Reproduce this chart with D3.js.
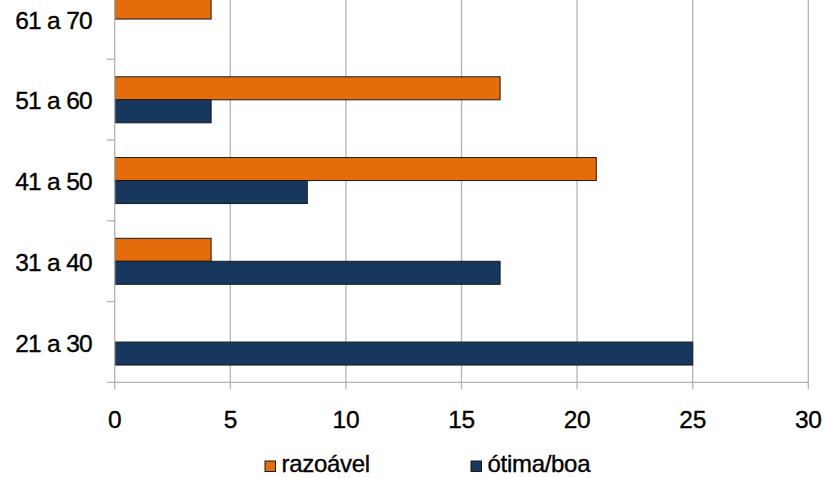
<!DOCTYPE html>
<html><head><meta charset="utf-8">
<script src="https://cdn.jsdelivr.net/npm/d3@7"></script>
<style>body{margin:0;background:#fff}svg{display:block}text{font-family:"Liberation Sans",Arial,sans-serif;fill:#000;stroke:#000;stroke-width:0.35px}</style>
</head><body><svg id="c" width="825" height="478"></svg>
<script>
const categories = ["21 a 30","31 a 40","41 a 50","51 a 60","61 a 70"];
const seriesNames = ["razoável","ótima/boa"];
const razoavel = [0, 4.17, 20.83, 16.67, 4.17];
const otimaBoa = [25, 16.67, 8.33, 4.17, 0];
const colors = ["#E46C0A","#17375E"];
const xTicks = [0,5,10,15,20,25,30];

const svg = d3.select("#c");
const x = d3.scaleLinear().domain([0,30]).range([114.7,808.3]);
const bandH = 80.75, bottom = 382.3;
const y = d3.scaleBand().domain(categories.slice().reverse()).range([bottom-5*bandH, bottom]).padding(0);
const inner = d3.scaleBand().domain(seriesNames).range([17.5, 63.5]).padding(0);
const gridC = "#b3b3b3";

// gridlines
svg.append("g").selectAll("line").data(xTicks.slice(1)).join("line")
  .attr("x1",d=>x(d)).attr("x2",d=>x(d)).attr("y1",0).attr("y2",bottom+7)
  .attr("stroke",gridC).attr("stroke-width",1.3);

// bars
const data = categories.map((c,i)=>({c, vals:[razoavel[i], otimaBoa[i]]}));
const g = svg.append("g");
data.forEach(d=>{
  d.vals.forEach((v,j)=>{
    if (v<=0) return;
    g.append("rect")
      .attr("x", x(0)).attr("y", y(d.c)+inner(seriesNames[j]))
      .attr("width", x(v)-x(0)).attr("height", inner.bandwidth())
      .attr("fill", colors[j]).attr("stroke","#1a1a1a").attr("stroke-width",1);
  });
});

// left axis
svg.append("line").attr("x1",x(0)).attr("x2",x(0)).attr("y1",0).attr("y2",bottom+7)
  .attr("stroke",gridC).attr("stroke-width",1.3);
const bounds = categories.map(c=>y(c));
svg.append("g").selectAll("line").data(bounds.filter(b=>b>0)).join("line")
  .attr("x1",107).attr("x2",x(0)).attr("y1",d=>d).attr("y2",d=>d)
  .attr("stroke",gridC).attr("stroke-width",1.3);
// bottom axis
svg.append("line").attr("x1",107).attr("x2",x(30)).attr("y1",bottom).attr("y2",bottom)
  .attr("stroke",gridC).attr("stroke-width",1.3);

// labels
svg.append("g").selectAll("text").data(categories).join("text")
  .attr("x",92).attr("y",d=>y(d)+y.bandwidth()/2).attr("dy","0.4em")
  .attr("text-anchor","end").attr("font-size",24.5).attr("letter-spacing","-0.7px").text(d=>d);
svg.append("g").selectAll("text").data(xTicks).join("text")
  .attr("x",d=>x(d)).attr("y",427.5).attr("text-anchor","middle").attr("font-size",24.5).attr("letter-spacing","-0.3px").text(d=>d);

// legend
const legX = [265, 471];
seriesNames.forEach((s,j)=>{
  svg.append("rect").attr("x",legX[j]).attr("y",461).attr("width",10.5).attr("height",10.5)
    .attr("fill",colors[j]).attr("stroke","#1a1a1a").attr("stroke-width",1);
  svg.append("text").attr("x",legX[j]+16.5).attr("y",472.3).attr("font-size",24).attr("letter-spacing","-0.3px").text(s);
});
</script></body></html>
